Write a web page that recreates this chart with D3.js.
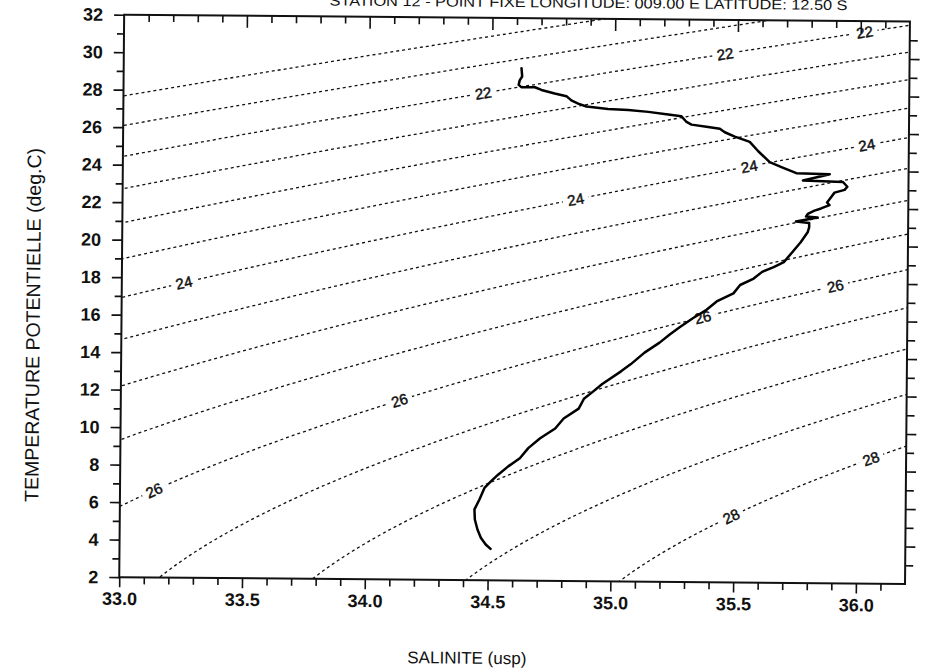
<!DOCTYPE html>
<html>
<head>
<meta charset="utf-8">
<script src="https://cdn.jsdelivr.net/npm/d3@7"></script>
<style>
  html, body { margin: 0; padding: 0; background: #fff; }
  svg text { font-family: "Liberation Sans", Arial, Helvetica, sans-serif; fill: #111; }
</style>
</head>
<body>
<svg id="chart" width="930" height="669"></svg>
<script>
// CTD cast: potential temperature (deg.C) against salinity, surface to bottom
const salinity = [
  34.620, 34.623, 34.613, 34.609, 34.620, 34.675, 34.702, 34.756, 34.804, 34.824, 34.852, 34.886,
  34.974, 35.056, 35.138, 35.219, 35.273, 35.294, 35.314, 35.382, 35.430, 35.450, 35.491, 35.532,
  35.552, 35.587, 35.634, 35.682, 35.743, 35.879, 35.770, 35.933, 35.951, 35.940, 35.899, 35.879,
  35.869, 35.879, 35.845, 35.818, 35.791, 35.784, 35.831, 35.743, 35.797, 35.797, 35.791, 35.763,
  35.729, 35.695, 35.654, 35.607, 35.573, 35.518, 35.491, 35.423, 35.382, 35.328, 35.273, 35.233,
  35.192, 35.131, 35.076, 35.036, 34.960, 34.920, 34.886, 34.865, 34.804, 34.770, 34.709, 34.661,
  34.627, 34.580, 34.539, 34.511, 34.484, 34.464, 34.444, 34.446, 34.457, 34.471, 34.491, 34.511
];
const temperature = [
  29.33, 28.89, 28.68, 28.44, 28.32, 28.32, 28.18, 28.00, 27.86, 27.64, 27.47, 27.32,
  27.20, 27.15, 27.06, 26.93, 26.84, 26.54, 26.40, 26.28, 26.19, 26.01, 25.78, 25.60,
  25.51, 25.01, 24.44, 24.18, 23.86, 23.82, 23.47, 23.41, 23.16, 22.99, 22.84, 22.49,
  22.31, 22.17, 21.99, 21.87, 21.69, 21.56, 21.51, 21.28, 21.21, 20.98, 20.71, 20.18,
  19.64, 19.11, 18.84, 18.58, 18.22, 17.87, 17.42, 16.98, 16.53, 16.09, 15.59, 15.20,
  14.76, 14.22, 13.60, 13.21, 12.53, 12.09, 11.73, 11.20, 10.67, 10.13, 9.60, 9.07,
  8.53, 8.09, 7.64, 7.29, 6.93, 6.31, 5.78, 5.24, 4.71, 4.27, 3.91, 3.68
];

// Isopycnals drawn (sigma-theta, kg/m3 - 1000)
const sigmaLevels = [21.0, 21.5, 22.0, 22.5, 23.0, 23.5, 24.0, 24.5, 25.0, 25.5, 26.0, 26.5, 27.0, 27.5, 28.0];

// Contour labels: isopycnal value and the salinity where the label sits
const labelLevels   = [22, 22, 22, 24, 24, 24, 24, 26, 26, 26, 26, 28, 28];
const labelSalinity = [36.016, 35.449, 34.465, 36.029, 35.551, 34.845, 33.253, 35.906, 35.367, 34.135, 33.139, 36.057, 35.490];

// Axis ticks
const xMajorTicks = [33.0, 33.5, 34.0, 34.5, 35.0, 35.5, 36.0];
const xMinorTicks = [33.1, 33.2, 33.3, 33.4, 33.6, 33.7, 33.8, 33.9, 34.1, 34.2, 34.3, 34.4,
                     34.6, 34.7, 34.8, 34.9, 35.1, 35.2, 35.3, 35.4, 35.6, 35.7, 35.8, 35.9, 36.1];
const yMajorTicks = [2, 4, 6, 8, 10, 12, 14, 16, 18, 20, 22, 24, 26, 28, 30, 32];
const yMinorTicks = [3, 5, 7, 9, 11, 13, 15, 17, 19, 21, 23, 25, 27, 29, 31];

const titleText = "STATION 12 - POINT FIXE   LONGITUDE: 009.00 E   LATITUDE: 12.50 S";
const xTitle = "SALINITE (usp)";
const yTitle = "TEMPERATURE POTENTIELLE (deg.C)";

// ---------------------------------------------------------------------------
const svg = d3.select("#chart");
// the printed sheet sits very slightly askew on the page
const page = svg.append("g").attr("transform", "rotate(0.5, 160, 296)");
const plot = { left: 121.7, right: 907.5, top: 15, bottom: 577.5 };

const x = d3.scaleLinear().domain([33.0, 36.2]).range([plot.left, plot.right]);
const y = d3.scaleLinear().domain([2, 32]).range([plot.bottom, plot.top]);

// Seawater density anomaly at the surface (UNESCO 1981 one-atmosphere equation of state)
function sigma0(s, t) {
  const t2 = t * t, t3 = t2 * t, t4 = t3 * t, t5 = t4 * t;
  const rhoW = 999.842594 + 6.793952e-2 * t - 9.095290e-3 * t2 + 1.001685e-4 * t3
             - 1.120083e-6 * t4 + 6.536332e-9 * t5;
  const a = 8.24493e-1 - 4.0899e-3 * t + 7.6438e-5 * t2 - 8.2467e-7 * t3 + 5.3875e-9 * t4;
  const b = -5.72466e-3 + 1.0227e-4 * t - 1.6546e-6 * t2;
  const c = 4.8314e-4;
  return rhoW + a * s + b * s * Math.sqrt(s) + c * s * s - 1000;
}
// salinity on a given isopycnal at temperature t (density rises with salinity)
function salinityOn(level, t) {
  let lo = 25, hi = 45;
  for (let i = 0; i < 60; i++) {
    const mid = (lo + hi) / 2;
    if (sigma0(mid, t) < level) lo = mid; else hi = mid;
  }
  return (lo + hi) / 2;
}
// temperature on a given isopycnal at salinity s (density falls with temperature)
function temperatureOn(level, s) {
  let lo = -2, hi = 40;
  for (let i = 0; i < 60; i++) {
    const mid = (lo + hi) / 2;
    if (sigma0(s, mid) > level) lo = mid; else hi = mid;
  }
  return (lo + hi) / 2;
}

svg.append("defs").append("clipPath").attr("id", "plot-clip")
  .append("rect")
  .attr("x", plot.left).attr("y", plot.top)
  .attr("width", plot.right - plot.left).attr("height", plot.bottom - plot.top);

// Isopycnal lines
const tSteps = d3.range(0, 34.01, 0.25);
const isoLine = d3.line().x(d => x(d[0])).y(d => y(d[1]));
const isoGroup = page.append("g").attr("clip-path", "url(#plot-clip)");
isoGroup.selectAll("path.iso")
  .data(sigmaLevels)
  .join("path")
  .attr("class", "iso")
  .attr("d", lev => isoLine(tSteps.map(t => [salinityOn(lev, t), t])))
  .attr("fill", "none")
  .attr("stroke", "#111")
  .attr("stroke-width", 1.3)
  .attr("stroke-dasharray", "3,3");

// Isopycnal labels, set along the line with a small gap
const labelGroup = page.append("g");
labelLevels.forEach((lev, i) => {
  const s = labelSalinity[i];
  const t = temperatureOn(lev, s);
  const px = x(s), py = y(t);
  const p1 = [x(s - 0.03), y(temperatureOn(lev, s - 0.03))];
  const p2 = [x(s + 0.03), y(temperatureOn(lev, s + 0.03))];
  const ang = Math.atan2(p2[1] - p1[1], p2[0] - p1[0]) * 180 / Math.PI;
  const g = labelGroup.append("g").attr("transform", `translate(${px},${py}) rotate(${ang})`);
  g.append("rect").attr("x", -13).attr("y", -8).attr("width", 26).attr("height", 16).attr("fill", "#fff");
  g.append("text")
    .attr("text-anchor", "middle")
    .attr("dy", "0.36em")
    .attr("font-size", 15)
    .attr("stroke", "#111")
    .attr("stroke-width", 0.45)
    .text(d3.format("d")(lev));
});

// Axes
function styleAxis(g) {
  g.select(".domain").remove();
  g.selectAll(".tick line").attr("stroke", "#111").attr("stroke-width", 1.6);
  g.selectAll(".tick text").attr("font-size", 18).attr("font-weight", "bold").attr("fill", "#111");
}
page.append("g").attr("transform", `translate(0,${plot.bottom})`)
  .call(d3.axisBottom(x).tickValues(xMajorTicks).tickSize(10).tickPadding(5).tickFormat(d3.format(".1f")))
  .call(styleAxis);
page.append("g").attr("transform", `translate(0,${plot.bottom})`)
  .call(d3.axisBottom(x).tickValues(xMinorTicks).tickSize(7).tickFormat(""))
  .call(styleAxis);
page.append("g").attr("transform", `translate(0,${plot.top})`)
  .call(d3.axisTop(x).tickValues(xMajorTicks.slice(1)).tickSize(-12).tickFormat(""))
  .call(styleAxis);
page.append("g").attr("transform", `translate(0,${plot.top})`)
  .call(d3.axisTop(x).tickValues(xMinorTicks).tickSize(-7).tickFormat(""))
  .call(styleAxis);
page.append("g").attr("transform", `translate(${plot.left},0)`)
  .call(d3.axisLeft(y).tickValues(yMajorTicks).tickSize(10).tickPadding(11).tickFormat(d3.format("d")))
  .call(styleAxis);
page.append("g").attr("transform", `translate(${plot.left},0)`)
  .call(d3.axisLeft(y).tickValues(yMinorTicks).tickSize(7).tickFormat(""))
  .call(styleAxis);
page.append("g").attr("transform", `translate(${plot.right},0)`)
  .call(d3.axisRight(y).tickValues(yMajorTicks.slice(1, -1)).tickSize(10).tickFormat(""))
  .call(styleAxis);
page.append("g").attr("transform", `translate(${plot.right},0)`)
  .call(d3.axisRight(y).tickValues(yMinorTicks).tickSize(8).tickFormat(""))
  .call(styleAxis);

// Plot frame
page.append("rect")
  .attr("x", plot.left).attr("y", plot.top)
  .attr("width", plot.right - plot.left).attr("height", plot.bottom - plot.top)
  .attr("fill", "none").attr("stroke", "#111").attr("stroke-width", 2);

// Temperature–salinity profile
const profile = salinity.map((s, i) => [s, temperature[i]]);
page.append("path")
  .datum(profile)
  .attr("d", d3.line().x(d => x(d[0])).y(d => y(d[1])))
  .attr("fill", "none")
  .attr("stroke", "#000")
  .attr("stroke-width", 2.5)
  .attr("stroke-linejoin", "round")
  .attr("stroke-linecap", "round");

// Titles
page.append("text")
  .attr("x", 327).attr("y", 4)
  .attr("font-size", 14)
  .attr("textLength", 518).attr("lengthAdjust", "spacingAndGlyphs")
  .text(titleText);
page.append("text")
  .attr("x", 470).attr("y", 661)
  .attr("text-anchor", "middle")
  .attr("font-size", 17)
  .text(xTitle);
page.append("text")
  .attr("transform", "translate(40,326) rotate(-90)")
  .attr("text-anchor", "middle")
  .attr("font-size", 19.5)
  .text(yTitle);
</script>
</body>
</html>
